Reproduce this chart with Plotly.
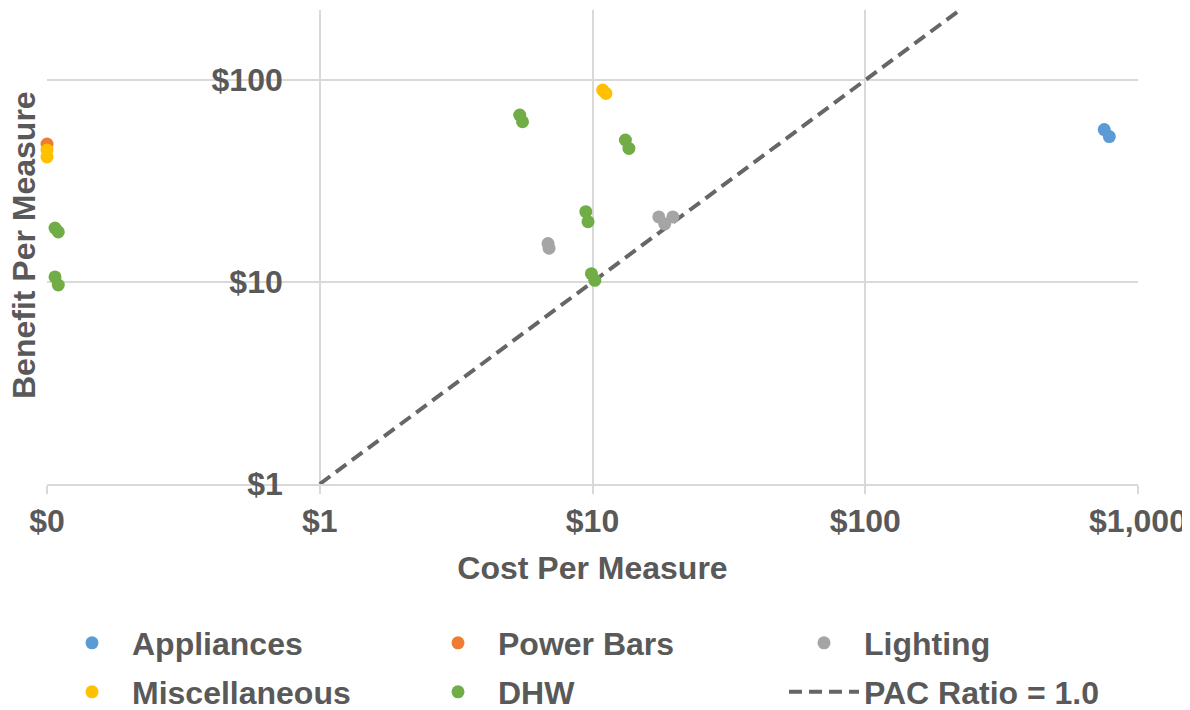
import plotly.graph_objects as go

# ---- data ----
appliances_x = [752, 785]
appliances_y = [56.9, 52.5]

power_bars_x = [0.1]
power_bars_y = [48.2]

misc_x = [0.1, 0.1, 10.9, 11.2]
misc_y = [45.0, 41.6, 89.2, 85.9]

lighting_x = [6.87, 6.93, 17.5, 19.7, 18.4]
lighting_y = [15.5, 14.7, 21.0, 21.0, 19.4]

dhw_x = [0.107, 0.110, 0.107, 0.110, 5.41, 5.54, 13.2, 13.6, 9.45, 9.63, 9.91, 10.2]
dhw_y = [18.5, 17.7, 10.6, 9.67, 67.1, 62.2, 50.5, 45.9, 22.3, 19.9, 11.0, 10.2]

pac_x = [1, 1000]
pac_y = [1, 1000]

x_tickvals = [0.1, 1, 10, 100, 1000]
x_ticktext = ["$0", "$1", "$10", "$100", "$1,000"]
y_tickvals = [1, 10, 100]
y_ticktext = ["$1", "$10", "$100"]

# ---- styling ----
FONT = "Arial, Liberation Sans, sans-serif"
TXT = "#595959"
GRID = "#d9d9d9"
MS = 13
FS = 32
OFF = 8                      # page body margin
W, H = 1190 - OFF, 710 - OFF
L, R, T, B = 47 - OFF, W - (1138 - OFF), 10 - OFF, H - (484 - OFF)
PW, PH = W - L - R, H - T - B

fig = go.Figure()

fig.add_trace(go.Scatter(x=pac_x, y=pac_y, mode="lines", name="PAC Ratio = 1.0",
                         line=dict(color="#666666", width=4, dash="13px,7px"),
                         legend="legend6"))

def pts(x, y, name, color, legend):
    fig.add_trace(go.Scatter(x=x, y=y, mode="markers", name=name,
                             marker=dict(color=color, size=MS),
                             legend=legend, cliponaxis=False))

pts(appliances_x, appliances_y, "Appliances", "#5B9BD5", "legend")
pts(power_bars_x, power_bars_y, "Power Bars", "#ED7D31", "legend2")
pts(lighting_x, lighting_y, "Lighting", "#A5A5A5", "legend3")
pts(misc_x, misc_y, "Miscellaneous", "#FFC000", "legend4")
pts(dhw_x, dhw_y, "DHW", "#70AD47", "legend5")

def leg(cx, cy):
    return dict(orientation="v", itemwidth=70, xref="container", yref="container",
                x=(cx - OFF - 40) / W, y=1 - (cy - OFF) / H,
                xanchor="left", yanchor="middle", bgcolor="rgba(0,0,0,0)",
                font=dict(family=FONT, size=FS, color=TXT, weight=700),
                visible=True)

fig.update_layout(
    width=W, height=H,
    showlegend=True,
    margin=dict(l=L, r=R, t=T, b=B, autoexpand=False),
    paper_bgcolor="white", plot_bgcolor="white",
    font=dict(family=FONT, color=TXT, size=FS, weight=700),
    legend=leg(92, 643),
    legend2=leg(458, 643),
    legend3=leg(824, 643),
    legend4=leg(92, 692),
    legend5=leg(458, 692),
    legend6=leg(824, 692),
    xaxis=dict(type="log", range=[-1, 3], tickvals=x_tickvals, ticktext=x_ticktext,
               automargin=False,
               showgrid=True, gridcolor=GRID, gridwidth=2,
               showline=True, linecolor=GRID, linewidth=2,
               ticks="outside", ticklen=8, tickcolor=GRID, tickwidth=2,
               tickfont=dict(family=FONT, size=FS, color=TXT, weight=700),
               ticklabelstandoff=0,
               title=dict(text="Cost Per Measure", standoff=18,
                          font=dict(family=FONT, size=FS, color=TXT, weight=700)),
               zeroline=False),
    yaxis=dict(type="log", range=[0, 2.347], tickvals=y_tickvals, ticktext=y_ticktext,
               anchor="free", position=0.25, automargin=False,
               showgrid=True, gridcolor=GRID, gridwidth=2,
               showline=False, ticks="", ticklabelstandoff=37,
               tickfont=dict(family=FONT, size=FS, color=TXT, weight=700),
               zeroline=False),
    annotations=[dict(text="Benefit Per Measure", textangle=-90,
                      xref="paper", yref="paper",
                      x=(24 - 47) / PW, y=(484 - 245) / PH,
                      xanchor="center", yanchor="middle",
                      showarrow=False,
                      font=dict(family=FONT, size=FS, color=TXT, weight=700))],
)

fig.write_html("out.html")
